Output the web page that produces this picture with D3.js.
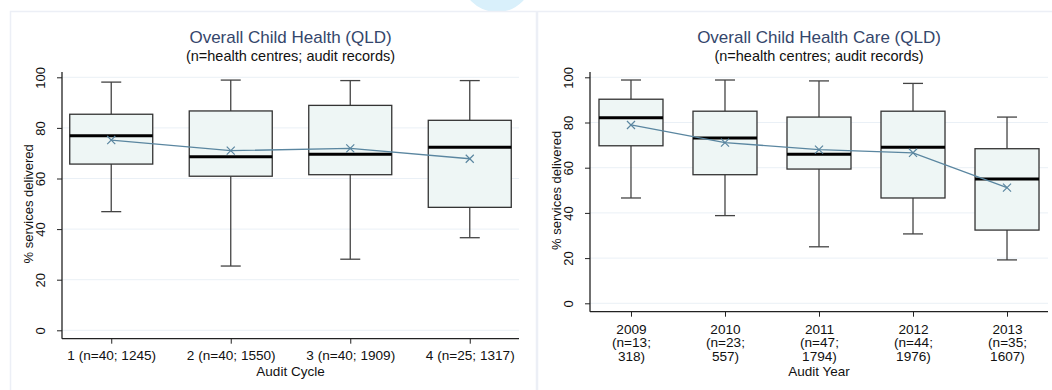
<!DOCTYPE html>
<html>
<head>
<meta charset="utf-8">
<script src="https://cdn.jsdelivr.net/npm/d3@7"></script>
<style>
  html, body { margin: 0; padding: 0; background: #fff; }
  svg { display: block; font-family: "Liberation Sans", Arial, sans-serif; }
</style>
</head>
<body>
<svg id="chart" width="1052" height="390"></svg>
<script>
// left panel: audit cycles
const cycleLabels = [["1 (n=40; 1245)"], ["2 (n=40; 1550)"], ["3 (n=40; 1909)"], ["4 (n=25; 1317)"]];
const cycleLow    = [46.9, 25.4, 28.1, 36.6];
const cycleQ1     = [65.7, 60.9, 61.5, 48.6];
const cycleMedian = [76.9, 68.6, 69.6, 72.4];
const cycleQ3     = [85.4, 86.7, 88.9, 83.0];
const cycleHigh   = [98.1, 98.9, 98.7, 98.7];
const cycleMean   = [75.2, 71.0, 71.9, 67.8];

// right panel: audit years
const yearLabels = [["2009", "(n=13;", "318)"], ["2010", "(n=23;", "557)"], ["2011", "(n=47;", "1794)"],
                    ["2012", "(n=44;", "1976)"], ["2013", "(n=35;", "1607)"]];
const yearLow    = [46.6, 38.8, 25.0, 30.7, 19.2];
const yearQ1     = [69.7, 56.9, 59.4, 46.6, 32.4];
const yearMedian = [82.1, 73.1, 65.9, 69.0, 55.0];
const yearQ3     = [90.3, 85.0, 82.4, 85.0, 68.4];
const yearHigh   = [98.8, 98.8, 98.4, 97.3, 82.4];
const yearMean   = [78.9, 71.1, 68.0, 66.6, 51.2];

const yTicks = [0, 20, 40, 60, 80, 100];

const svg = d3.select('#chart');

// faint logo peeking in at the top
svg.append('circle').attr('cx', 497).attr('cy', -24).attr('r', 30)
  .attr('fill', 'none').attr('stroke', '#d9f0fb').attr('stroke-width', 12);

// panel frames
svg.append('rect').attr('x', 10.5).attr('y', 11.5).attr('width', 1060).attr('height', 400)
  .attr('fill', '#fff').attr('stroke', '#eceff6').attr('stroke-width', 1.5);
svg.append('line').attr('x1', 537).attr('x2', 537).attr('y1', 11).attr('y2', 390)
  .attr('stroke', '#eceff6').attr('stroke-width', 2.5);

function drawPanel(p) {
  const g = svg.append('g');
  const n = p.labels.length;
  const x = d3.scalePoint().domain(d3.range(n)).range([p.left, p.right]).padding(p.pad);
  const y = d3.scaleLinear().domain([0, 100]).range([p.zeroY, p.hundredY]);

  // gridlines
  g.selectAll('.grid').data(yTicks).enter().append('line')
    .attr('x1', p.left).attr('x2', p.right)
    .attr('y1', d => y(d)).attr('y2', d => y(d))
    .attr('stroke', '#eaf0f6').attr('stroke-width', 1);

  // y axis
  const yAxis = g.append('g').attr('transform', `translate(${p.left},0)`)
    .call(d3.axisLeft(y).tickValues(yTicks).tickSize(5).tickPadding(0));
  yAxis.select('.domain').remove();
  yAxis.selectAll('.tick line').attr('stroke', '#222');
  yAxis.selectAll('.tick text').remove();
  yAxis.selectAll('.tick').append('text')
    .attr('transform', 'translate(-17,0) rotate(-90)')
    .attr('text-anchor', 'middle').attr('fill', '#111')
    .attr('font-size', 13).text(d => d);
  g.append('line').attr('x1', p.left).attr('x2', p.left)
    .attr('y1', p.axisTop).attr('y2', p.axisY).attr('stroke', '#222').attr('stroke-width', 1.3);

  // x axis
  const xAxis = g.append('g').attr('transform', `translate(0,${p.axisY})`)
    .call(d3.axisBottom(x).tickSize(5).tickFormat(''));
  xAxis.select('.domain').remove();
  xAxis.selectAll('.tick line').attr('stroke', '#222');
  xAxis.selectAll('.tick').append('text')
    .attr('text-anchor', 'middle').attr('fill', '#111').attr('font-size', 13.6)
    .selectAll('tspan').data(i => p.labels[i]).enter().append('tspan')
    .attr('x', 0).attr('y', (d, k) => p.labelY - p.axisY + k * 13.5).text(d => d);
  g.append('line').attr('x1', p.left).attr('x2', p.right)
    .attr('y1', p.axisY).attr('y2', p.axisY).attr('stroke', '#222').attr('stroke-width', 1.3);

  // boxes
  const idx = d3.range(n);
  const bw = p.boxW, cw = 20;
  const box = g.selectAll('.box').data(idx).enter().append('g');
  box.append('line').attr('x1', i => x(i)).attr('x2', i => x(i))
    .attr('y1', i => y(p.high[i])).attr('y2', i => y(p.q3[i]))
    .attr('stroke', '#444').attr('stroke-width', 1.3);
  box.append('line').attr('x1', i => x(i)).attr('x2', i => x(i))
    .attr('y1', i => y(p.q1[i])).attr('y2', i => y(p.low[i]))
    .attr('stroke', '#444').attr('stroke-width', 1.3);
  box.append('line').attr('x1', i => x(i) - cw / 2).attr('x2', i => x(i) + cw / 2)
    .attr('y1', i => y(p.high[i])).attr('y2', i => y(p.high[i]))
    .attr('stroke', '#444').attr('stroke-width', 1.3);
  box.append('line').attr('x1', i => x(i) - cw / 2).attr('x2', i => x(i) + cw / 2)
    .attr('y1', i => y(p.low[i])).attr('y2', i => y(p.low[i]))
    .attr('stroke', '#444').attr('stroke-width', 1.3);
  box.append('rect')
    .attr('x', i => x(i) - bw / 2).attr('width', bw)
    .attr('y', i => y(p.q3[i])).attr('height', i => y(p.q1[i]) - y(p.q3[i]))
    .attr('fill', '#eef6f5').attr('stroke', '#333').attr('stroke-width', 1.3);
  box.append('line').attr('x1', i => x(i) - bw / 2).attr('x2', i => x(i) + bw / 2)
    .attr('y1', i => y(p.median[i])).attr('y2', i => y(p.median[i]))
    .attr('stroke', '#000').attr('stroke-width', 3);

  // mean line + markers
  g.append('path')
    .attr('d', d3.line().x(i => x(i)).y(i => y(p.mean[i]))(idx))
    .attr('fill', 'none').attr('stroke', '#5a86a0').attr('stroke-width', 1.3);
  g.selectAll('.mean').data(idx).enter().append('path')
    .attr('transform', i => `translate(${x(i)},${y(p.mean[i])})`)
    .attr('d', d3.symbol(d3.symbolX, 44))
    .attr('fill', 'none').attr('stroke', '#5a86a0').attr('stroke-width', 1.2);

  // titles
  const cx = (p.left + p.right) / 2;
  g.append('text').attr('x', cx).attr('y', 43).attr('text-anchor', 'middle')
    .attr('font-size', 17).attr('fill', '#34466b').text(p.title);
  g.append('text').attr('x', cx).attr('y', 61).attr('text-anchor', 'middle')
    .attr('font-size', 14.5).attr('fill', '#111').text('(n=health centres; audit records)');
  g.append('text').attr('x', cx).attr('y', 376).attr('text-anchor', 'middle')
    .attr('font-size', 13.5).attr('fill', '#111').text(p.xTitle);
  g.append('text')
    .attr('transform', `translate(${p.left - 29.5},${(p.zeroY + p.hundredY) / 2}) rotate(-90)`)
    .attr('text-anchor', 'middle').attr('font-size', 13).attr('fill', '#111')
    .text('% services delivered');
}

drawPanel({
  title: 'Overall Child Health (QLD)', xTitle: 'Audit Cycle', labels: cycleLabels,
  low: cycleLow, q1: cycleQ1, median: cycleMedian, q3: cycleQ3, high: cycleHigh, mean: cycleMean,
  left: 62, right: 519, pad: 0.412, zeroY: 330.3, hundredY: 77.3, axisY: 338.7, axisTop: 72,
  boxW: 83, labelY: 360
});

drawPanel({
  title: 'Overall Child Health Care (QLD)', xTitle: 'Audit Year', labels: yearLabels,
  low: yearLow, q1: yearQ1, median: yearMedian, q3: yearQ3, high: yearHigh, mean: yearMean,
  left: 590, right: 1048, pad: 0.436, zeroY: 303.3, hundredY: 77.3, axisY: 311.7, axisTop: 72,
  boxW: 64, labelY: 334
});
</script>
</body>
</html>
